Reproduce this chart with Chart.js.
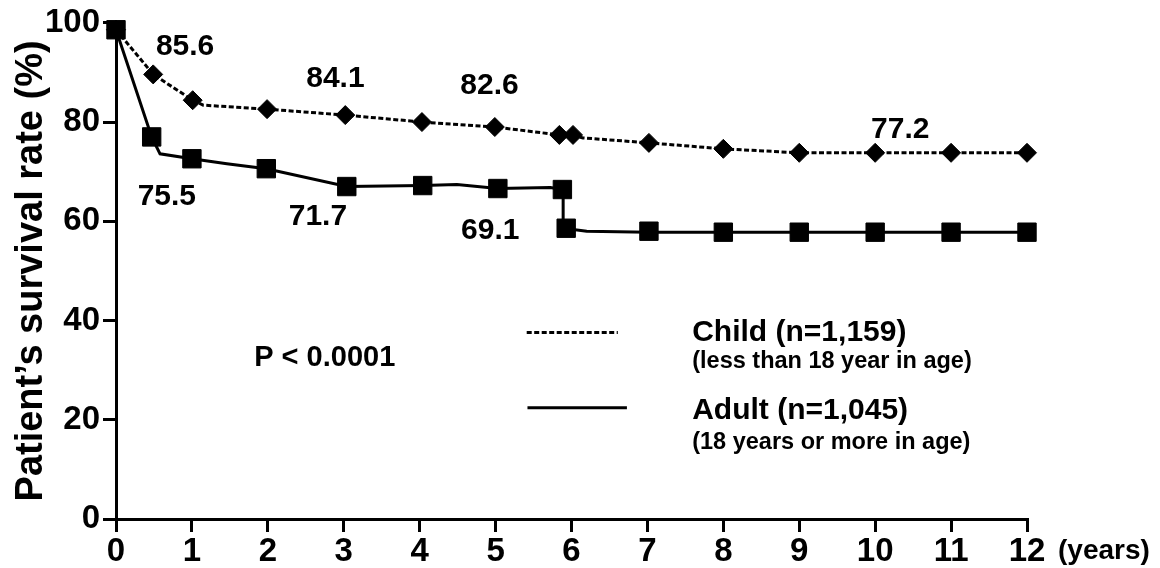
<!DOCTYPE html>
<html>
<head>
<meta charset="utf-8">
<script src="https://cdn.jsdelivr.net/npm/chart.js@4.4.1/dist/chart.umd.min.js"></script>
<style>
  html, body { margin: 0; padding: 0; background: #fff; }
  #wrap { width: 1160px; height: 568px; }
</style>
</head>
<body>
<div id="wrap"><canvas id="c" width="1160" height="568"></canvas></div>
<script>
// ---- data ----
const xTickLabels = ['0','1','2','3','4','5','6','7','8','9','10','11','12'];
const yTickLabels = ['0','20','40','60','80','100'];

// Child (dotted curve) – curve vertices and diamond markers
const childLineX = [0, 0.49, 1.01, 1.15, 1.99, 3.02, 4.03, 4.99, 5.84, 6.02, 6.15, 7.02, 8, 9, 12];
const childLineY = [98.6, 89.6, 84.4, 83.4, 82.6, 81.4, 80.0, 79.0, 77.4, 77.4, 76.8, 75.8, 74.6, 73.8, 73.8];
const childMarkX = [0, 0.49, 1.01, 1.99, 3.02, 4.03, 4.99, 5.84, 6.02, 7.02, 8, 9, 10, 11, 12];
const childMarkY = [98.6, 89.6, 84.4, 82.6, 81.4, 80.0, 79.0, 77.4, 77.4, 75.8, 74.6, 73.8, 73.8, 73.8, 73.8];

// Adult (solid curve) – curve vertices and square markers
const adultLineX = [0, 0.47, 0.58, 1.0, 1.46, 1.98, 3.04, 4.04, 4.49, 5.03, 5.72, 5.89, 5.89, 6.2, 7.02, 12];
const adultLineY = [98.6, 77.0, 73.6, 72.6, 71.6, 70.6, 67.0, 67.2, 67.4, 66.6, 66.8, 66.4, 58.6, 58.0, 57.8, 57.8];
const adultMarkX = [0, 0.47, 1.0, 1.98, 3.04, 4.04, 5.03, 5.88, 5.93, 7.02, 8, 9, 10, 11, 12];
const adultMarkY = [98.6, 77.0, 72.6, 70.6, 67.0, 67.2, 66.6, 66.4, 58.6, 58.0, 57.8, 57.8, 57.8, 57.8, 57.8];

// value labels printed on the chart
const labelTexts = ['85.6', '84.1', '82.6', '77.2', '75.5', '71.7', '69.1'];
const labelX     = [0.91, 2.89, 4.92, 10.33, 0.67, 2.66, 4.93];
const labelY     = [95.2, 88.8, 87.4, 78.4, 65.0, 61.0, 58.0];

const pText = 'P < 0.0001';
const legendMain = ['Child (n=1,159)', 'Adult (n=1,045)'];
const legendSub  = ['(less than 18 year in age)', '(18 years or more in age)'];
const yTitle = 'Patient\u2019s survival rate (%)';
const xUnit = '(years)';

const pts = (xs, ys) => xs.map((x, i) => ({x, y: ys[i]}));

const FONT = "'Liberation Sans', Arial, Helvetica, sans-serif";

const overlay = {
  id: 'overlay',
  afterDraw(chart) {
    const ctx = chart.ctx;
    const xs = chart.scales.x, ys = chart.scales.y;
    const px = v => xs.getPixelForValue(v), py = v => ys.getPixelForValue(v);
    ctx.save();
    ctx.fillStyle = '#000';
    ctx.textAlign = 'center';
    ctx.textBaseline = 'middle';
    ctx.font = 'bold 30px ' + FONT;
    labelTexts.forEach((t, i) => ctx.fillText(t, px(labelX[i]), py(labelY[i])));
    ctx.font = 'bold 29px ' + FONT;
    ctx.fillText(pText, px(2.75), py(32.4));

    // legend
    ctx.strokeStyle = '#000';
    ctx.lineWidth = 3;
    ctx.setLineDash([5, 2.5]);
    ctx.beginPath(); ctx.moveTo(px(5.41), py(37.6)); ctx.lineTo(px(6.61), py(37.6)); ctx.stroke();
    ctx.setLineDash([]);
    ctx.beginPath(); ctx.moveTo(px(5.42), py(22.4)); ctx.lineTo(px(6.73), py(22.4)); ctx.stroke();

    ctx.textAlign = 'left';
    ctx.font = 'bold 30px ' + FONT;
    ctx.fillText(legendMain[0], px(7.59), py(37.5));
    ctx.fillText(legendMain[1], px(7.59), py(21.8));
    ctx.font = 'bold 23.5px ' + FONT;
    ctx.fillText(legendSub[0], px(7.59), py(31.7));
    ctx.fillText(legendSub[1], px(7.59), py(15.5));

    // x unit
    ctx.font = 'bold 28px ' + FONT;
    ctx.fillText(xUnit, 1058, 551);
    ctx.restore();
  }
};

new Chart(document.getElementById('c'), {
  type: 'line',
  data: {
    datasets: [
      { label: 'Adult markers', data: pts(adultMarkX, adultMarkY), showLine: false,
        pointStyle: 'rect', pointRadius: 13, backgroundColor: '#000', borderColor: '#000', borderWidth: 1 },
      { label: 'Child markers', data: pts(childMarkX, childMarkY), showLine: false,
        pointStyle: 'rectRot', pointRadius: 9.5, backgroundColor: '#000', borderColor: '#000', borderWidth: 1 },
      { label: 'Adult', data: pts(adultLineX, adultLineY), borderColor: '#000', borderWidth: 3,
        pointRadius: 0, tension: 0, fill: false },
      { label: 'Child', data: pts(childLineX, childLineY), borderColor: '#000', borderWidth: 3,
        borderDash: [5, 2.5], pointRadius: 0, tension: 0, fill: false }
    ]
  },
  options: {
    responsive: false,
    devicePixelRatio: 1,
    animation: false,
    clip: false,
    layout: { padding: { left: 0, right: 133, top: 20, bottom: 0 } },
    plugins: { legend: { display: false }, tooltip: { enabled: false } },
    scales: {
      x: {
        type: 'linear', min: 0, max: 12,
        afterFit: s => { s.height = 49; },
        afterBuildTicks: s => { s.ticks = xTickLabels.map(v => ({value: +v})); },
        ticks: { stepSize: 1, autoSkip: false, maxRotation: 0, color: '#000', padding: 0,
                 font: { family: FONT, weight: 'bold', size: 33 },
                 callback: (v, i) => xTickLabels[i] },
        grid: { drawOnChartArea: false, drawTicks: true, tickLength: 13, color: '#000', lineWidth: 3 },
        border: { display: true, color: '#000', width: 3 }
      },
      y: {
        type: 'linear', min: 0, max: 100,
        afterFit: s => { s.width = 116; },
        afterBuildTicks: s => { s.ticks = yTickLabels.map(v => ({value: +v})); },
        ticks: { stepSize: 20, color: '#000', padding: 3,
                 font: { family: FONT, weight: 'bold', size: 33 },
                 callback: (v, i) => yTickLabels[i] },
        grid: { drawOnChartArea: false, drawTicks: true, tickLength: 13, color: '#000', lineWidth: 3 },
        border: { display: true, color: '#000', width: 3 },
        title: { display: true, text: yTitle, color: '#000',
                 font: { family: FONT, weight: 'bold', size: 38 },
                 padding: { top: 9, bottom: 0 } }
      }
    }
  },
  plugins: [overlay]
});
</script>
</body>
</html>
